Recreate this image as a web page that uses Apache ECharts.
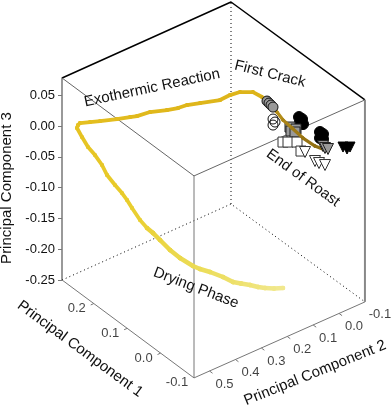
<!DOCTYPE html>
<html>
<head>
<meta charset="utf-8">
<style>html,body{margin:0;padding:0;background:#fff}#c{width:392px;height:406px}</style>
<script src="https://cdn.jsdelivr.net/npm/echarts@6/dist/echarts.min.js"></script>
</head>
<body>
<div id="c"></div>
<script>
// Tick labels
const pc1Ticks = [0.2, 0.1, 0.0, -0.1];
const pc2Ticks = [0.5, 0.4, 0.3, 0.2, 0.1, 0.0, -0.1];
const pc3Ticks = [-0.25, -0.20, -0.15, -0.10, -0.05, 0.00, 0.05];

// Box extent in principal component units
const pc1Range = [-0.1, 0.295];
const pc2Range = [-0.1, 0.56];
const pc3Range = [-0.25, 0.078];

// Roast trajectory, in the projected plane
const trajH = [283,274,265,258,250,241,233,223,210,200,193,180,170,160,153,147,140,132,127,122,115,107,102,95,88,82,77,78,80,90,100,117,130,137,150,167,178,187,200,220,230,240,253,262,268,277,283,292,303,315,325];
const trajV = [-0.2630,-0.2638,-0.2630,-0.2614,-0.2581,-0.2557,-0.2533,-0.2451,-0.2370,-0.2321,-0.2273,-0.2143,-0.2013,-0.1851,-0.1737,-0.1656,-0.1526,-0.1331,-0.1201,-0.1088,-0.0958,-0.0795,-0.0633,-0.0471,-0.0341,-0.0179,-0.0032,0.0016,0.0049,0.0065,0.0081,0.0114,0.0146,0.0162,0.0227,0.0260,0.0292,0.0341,0.0373,0.0422,0.0503,0.0552,0.0552,0.0471,0.0373,0.0227,0.0097,-0.0032,-0.0195,-0.0325,-0.0390];
// Colour read along the trajectory
const trajPalette = ['#F1E88E','#ECDD5A','#E9CE2E','#E6C322','#E0B81C','#DDB41A'];
const trajDark = ['#D8AE18','#B8901A','#9A7614','#8A6A10'];

// Replicate samples
const grayCircleH = [267,269,271,273];
const grayCircleV = [0.0406,0.0373,0.0341,0.0308];
const openCircleH = [273,275,273];
const openCircleV = [0.0114,0.0065,0.0016];
const blackCircleH = [299,302,300,303,320,323,320,323];
const blackCircleV = [0.0146,0.0114,0.0065,0.0032,-0.0097,-0.0130,-0.0195,-0.0211];
const graySquareH = [290,291,296,295];
const graySquareV = [-0.0016,-0.0081,-0.0049,-0.0097];
const whiteSquareH = [283,288,297,301];
const whiteSquareV = [-0.0260,-0.0260,-0.0260,-0.0406];
const whiteTriH = [305,315,319,325];
const whiteTriV = [-0.0422,-0.0568,-0.0601,-0.0633];
const grayTriH = [323,325,328];
const grayTriV = [-0.0325,-0.0357,-0.0373];
const blackTriH = [343,347,350];
const blackTriV = [-0.0341,-0.0373,-0.0341];

const FONT = '"Liberation Sans", Arial, Helvetica, sans-serif';

// Orthographic view of the cube onto the plane of the chart
function project(p1, p2, p3) {
  const a = p1 - pc1Range[0], b = pc2Range[1] - p2;
  return [194 - 334 * a + 259 * b - 7.67 * a * b,
          p3 - 0.159 + 0.4025 * a + 0.187 * b];
}
const zip = (h, v) => h.map((x, i) => [x, v[i]]);

const [x0, x1] = pc1Range, [y0, y1] = pc2Range, [z0, z1] = pc3Range;
const left  = z => project(x1, y1, z);
const front = z => project(x0, y1, z);
const right = z => project(x0, y0, z);
const back  = z => project(x1, y0, z);

function edge(points, color, width, type, z) {
  return { type: 'line', data: points, symbol: 'none', silent: true, clip: false,
           z: z || 1, lineStyle: { color, width, type: type || 'solid', cap: 'butt' },
           connectNulls: false, animation: false };
}
function marks(h, v, symbol, size, fill, stroke, rotate, z) {
  return { type: 'scatter', data: zip(h, v), symbol, symbolSize: size, symbolRotate: rotate || 0,
           clip: false, z: z, animation: false,
           itemStyle: { color: fill, borderColor: stroke, borderWidth: 1, opacity: 1 } };
}
function tickLabels(vals, fn, offset) {
  return { type: 'scatter', symbolSize: 0, clip: false, silent: true, animation: false, z: 6,
    data: vals.map(v => ({ value: fn(v), label: { show: true, formatter: v.toFixed(1), position: 'inside',
        offset: offset, fontFamily: FONT, fontSize: 13, color: '#111' } })) };
}
const NUL = [null, null];
const pc1TickSegs = [], pc2TickSegs = [];
pc1Ticks.slice(0, 3).forEach(v => pc1TickSegs.push(project(v, y1, z0), project(v, y1 + 0.012, z0), NUL));
pc2Ticks.slice(0, 6).forEach(v => pc2TickSegs.push(project(x0, v, z0), project(x0 - 0.009, v, z0), NUL));

// Colour of the i-th sample of the trajectory: pale in drying, gold in the reaction, brown after first crack
function hex(c) { return [1, 3, 5].map(k => parseInt(c.substr(k, 2), 16)); }
function mix(a, b, t) {
  const A = hex(a), B = hex(b);
  return 'rgb(' + A.map((v, k) => Math.round(v + (B[k] - v) * t)).join(',') + ')';
}
const TURN = 42;
function trajColor(i) {
  const pal = i <= TURN ? trajPalette : trajDark;
  const t = i <= TURN ? i / TURN : (i - TURN) / (trajH.length - 1 - TURN);
  const p = t * (pal.length - 1), k = Math.min(Math.floor(p), pal.length - 2);
  return mix(pal[k], pal[k + 1], p - k);
}
const trajWidth = i => i <= 14 ? 4.5 : i <= TURN ? 3.8 : 3.2;
const trajSeries = trajH.slice(1).map((_, i) => ({
  type: 'line', data: [[trajH[i], trajV[i]], [trajH[i + 1], trajV[i + 1]]],
  symbol: 'circle', symbolSize: trajWidth(i), showSymbol: true, clip: false, z: 4, animation: false, silent: true,
  itemStyle: { color: trajColor(i) },
  lineStyle: { width: trajWidth(i), color: trajColor(i), cap: 'round', join: 'round' }
}));

const chart = echarts.init(document.getElementById('c'), null, { renderer: 'canvas' });

const txt = (text, x, y, deg) => ({
  type: 'text', x, y, rotation: deg * Math.PI / 180, silent: true, z: 20,
  style: { text, font: '15px ' + FONT, fill: '#111', textAlign: 'center', textVerticalAlign: 'middle' }
});

chart.setOption({
  animation: false,
  backgroundColor: '#fff',
  grid: { left: 62, right: 0, top: 78, height: 202, outerBoundsMode: 'none' },
  xAxis: { type: 'value', min: 62, max: 392, show: false },
  yAxis: {
    type: 'value', min: z0, max: z1, interval: 0.05, position: 'left',
    name: 'Principal Component 3', nameLocation: 'middle', nameGap: 47, nameRotate: 90,
    nameTextStyle: { fontFamily: FONT, fontSize: 15, color: '#111', padding: [0, 18, 0, 0] },
    axisLine: { show: true, lineStyle: { color: '#777', width: 1.5 } },
    axisTick: { show: true, length: 4, customValues: pc3Ticks, lineStyle: { color: '#777', width: 1 } },
    axisLabel: { customValues: pc3Ticks, formatter: v => v.toFixed(2), fontFamily: FONT, fontSize: 13,
                 color: '#111', margin: 7, padding: [6, 0, 0, 0] },
    splitLine: { show: false }
  },
  series: [
    // hidden edges
    edge([back(z0), back(z1)], '#000', 1, [1, 3]),
    edge([left(z0), back(z0), right(z0)], '#000', 1, [1, 3]),
    // visible edges
    edge([left(z1), back(z1), right(z1)], '#000', 1.5),
    edge([left(z1), front(z1), right(z1)], '#666', 1),
    edge([front(z1), front(z0)], '#777', 1),
    edge([left(z0), front(z0), right(z0)], '#777', 1),
    edge([right(z0), right(z1)], '#888', 2),
    edge(pc1TickSegs, '#777', 1),
    edge(pc2TickSegs, '#777', 1),
    marks(openCircleH, openCircleV, 'circle', 10, 'rgba(255,255,255,0)', '#111', 0, 3),
    marks(blackCircleH, blackCircleV, 'circle', 11, '#000', '#000', 0, 3),
    marks(graySquareH, graySquareV, 'rect', 10, '#999', '#222', 0, 3),
    marks(whiteSquareH, whiteSquareV, 'rect', 10, '#fff', '#333', 0, 3),
    marks(whiteTriH, whiteTriV, 'triangle', 11, '#fff', '#333', 180, 3),
    marks(blackTriH, blackTriV, 'triangle', 10, '#000', '#000', 180, 3),
    marks(grayCircleH, grayCircleV, 'circle', 10, '#999', '#111', 0, 5),
    marks(grayTriH, grayTriV, 'triangle', 11, '#999', '#222', 180, 5),
    tickLabels(pc1Ticks, v => project(v, y1, z0), [-17, 5]),
    tickLabels(pc2Ticks, v => project(x0, v, z0), [15, 13]),
    ...trajSeries
  ],
  graphic: [
    txt('Exothermic Reaction', 152, 88, 12),
    txt('First Crack', 270, 74, -14),
    txt('End of Roast', 303, 178, -36),
    txt('Drying Phase', 196, 288, -21),
    txt('Principal Component 1', 80, 349, -36.4),
    txt('Principal Component 2', 315, 373, 22)
  ]
});
</script>
</body>
</html>
